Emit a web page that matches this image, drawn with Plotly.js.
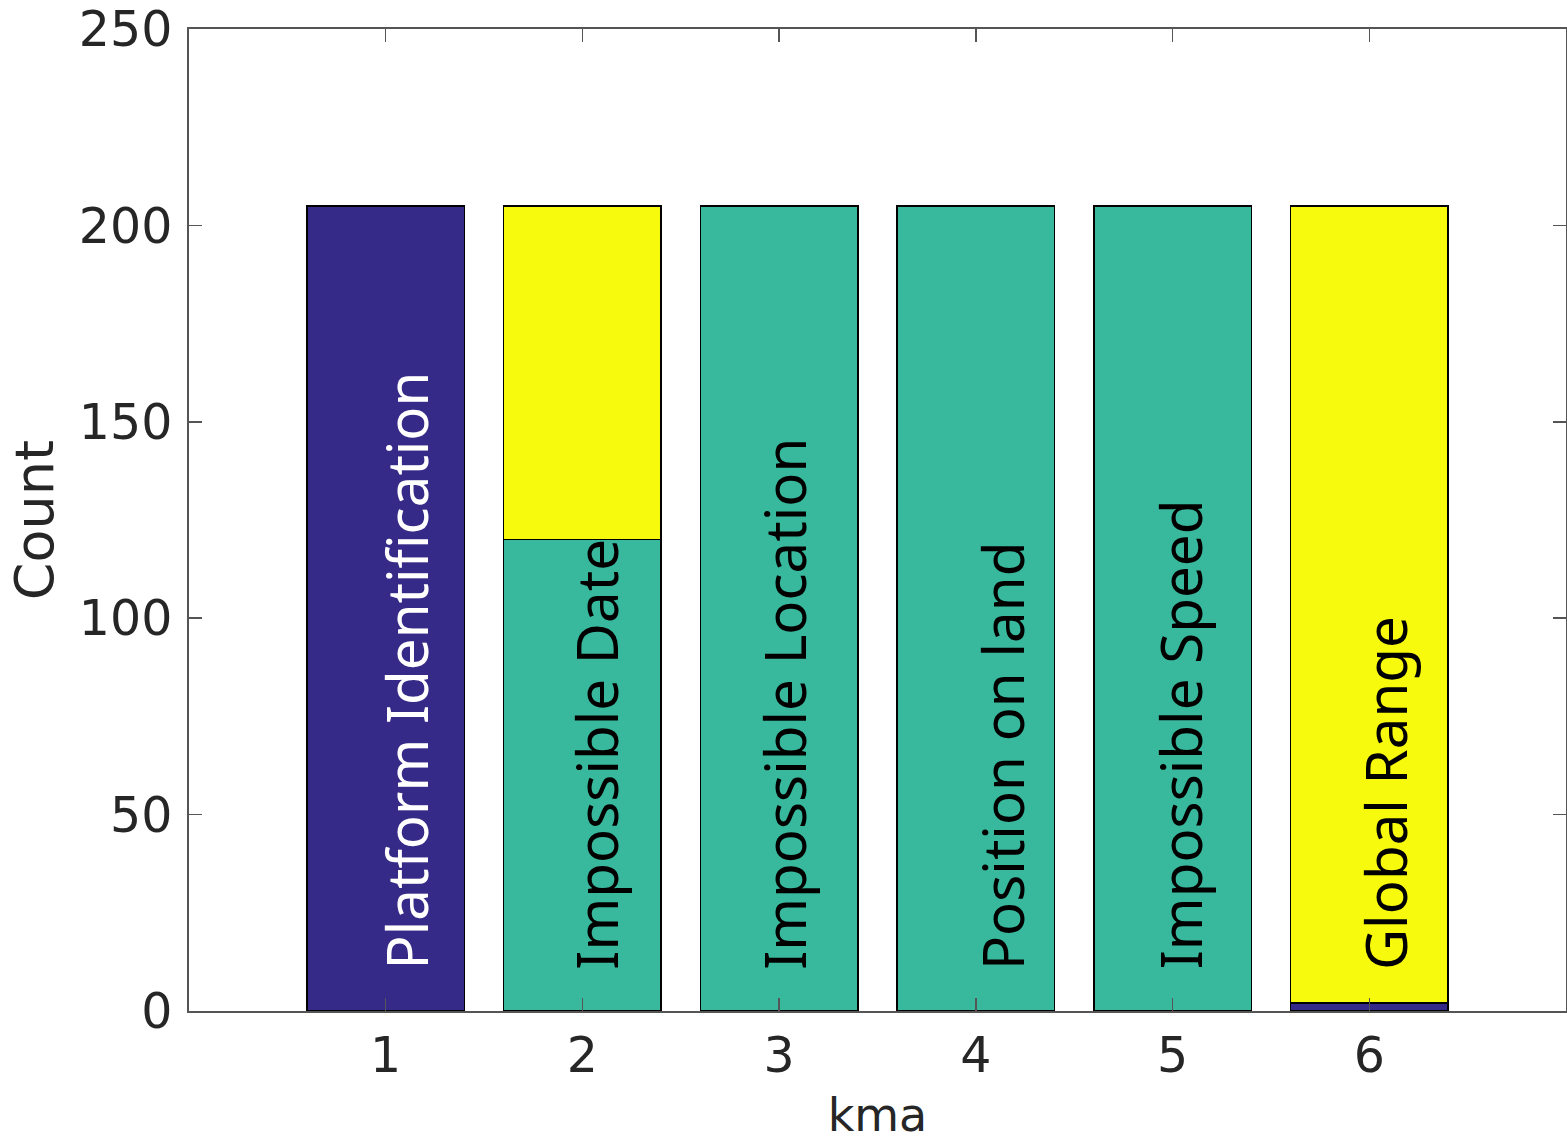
<!DOCTYPE html>
<html>
<head>
<meta charset="utf-8">
<script src="https://cdn.plot.ly/plotly-3.0.1.min.js"></script>
<style>html,body{margin:0;padding:0;background:#fff;}#chart{width:1567px;height:1142px;}</style>
</head>
<body>
<div id="chart"></div>
<script>
// Data
const xPositions = [1, 2, 3, 4, 5, 6];
const seriesPurple = [205, 0, 0, 0, 0, 2];
const seriesTeal = [0, 120, 205, 205, 205, 0];
const seriesYellow = [0, 85, 0, 0, 0, 203];
const barLabels = ["Platform Identification", "Impossible Date", "Impossible Location", "Position on land", "Impossible Speed", "Global Range"];
const labelColors = ["#ffffff", "#000000", "#000000", "#000000", "#000000", "#000000"];
const labelY = 10;
const yTicks = [0, 50, 100, 150, 200, 250];

// style: per-label horizontal pixel nudges
const labelNudge = [21, 14, 6, 26, 8, 16];

const colors = ["#352A87", "#38B89D", "#F8FA0D"];
const series = [seriesPurple, seriesTeal, seriesYellow];

const traces = series.map((vals, i) => ({
  type: "bar",
  x: xPositions,
  y: vals,
  width: 0.8,
  marker: {color: colors[i], line: {color: "#000000", width: 1.5}},
  hoverinfo: "skip",
  showlegend: false
}));

const annotations = barLabels.map((t, i) => ({
  x: xPositions[i],
  y: labelY,
  xref: "x",
  yref: "y",
  text: t,
  showarrow: false,
  textangle: -90,
  xanchor: "center",
  yanchor: "bottom",
  xshift: labelNudge[i],
  font: {family: "Noto Sans", size: 56.5, color: labelColors[i]}
}));

const axisCommon = {
  showline: true,
  mirror: "ticks",
  linecolor: "#555555",
  linewidth: 1.8,
  ticks: "inside",
  ticklen: 13,
  tickwidth: 1.5,
  tickcolor: "#555555",
  showgrid: false,
  zeroline: false,
  tickfont: {family: "DejaVu Sans", size: 49, color: "#262626"}
};

const layout = {
  width: 1567,
  height: 1142,
  margin: {l: 189, r: 1, t: 29, b: 131},
  paper_bgcolor: "#ffffff",
  plot_bgcolor: "#ffffff",
  barmode: "stack",
  hovermode: false,
  showlegend: false,
  xaxis: Object.assign({}, axisCommon, {
    range: [0, 7],
    tickvals: xPositions,
    ticktext: xPositions.map(String),
    title: {text: "kma", font: {family: "DejaVu Sans", size: 46, color: "#262626"}, standoff: 20}
  }),
  yaxis: Object.assign({}, axisCommon, {
    range: [0, 250],
    tickvals: yTicks,
    ticktext: yTicks.map(String),
    ticklabelstandoff: 5,
    title: {text: "Count", font: {family: "DejaVu Sans", size: 54, color: "#262626"}, standoff: 8}
  }),
  annotations: annotations
};

Plotly.newPlot("chart", traces, layout, {displayModeBar: false, staticPlot: true});
</script>
</body>
</html>
